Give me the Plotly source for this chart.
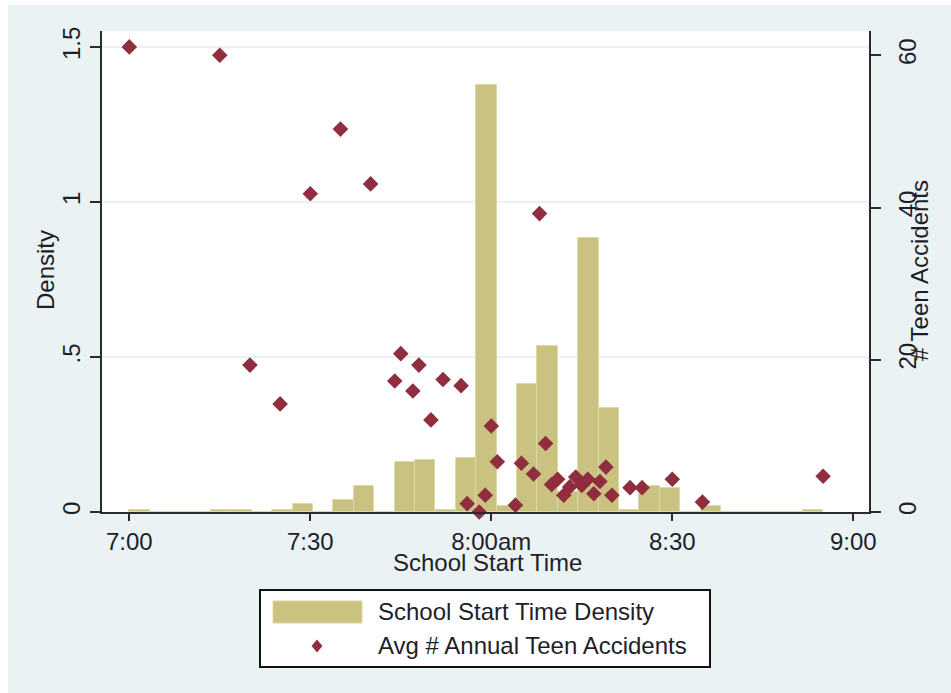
import plotly.graph_objects as go

# ---- data -------------------------------------------------------------
# Histogram of school start times: 34 equal bins from 7:00 to 8:55
bin_start = "7:00"
bin_end = "8:55"
density = [0.008, 0.0, 0.0, 0.0, 0.008, 0.008, 0.0, 0.008, 0.026, 0.0,
           0.040, 0.084, 0.0, 0.161, 0.169, 0.005, 0.175, 1.376, 0.019, 0.414,
           0.535, 0.065, 0.884, 0.335, 0.005, 0.084, 0.077, 0.0, 0.019, 0.0,
           0.0, 0.0, 0.0, 0.006]

# Average number of annual teen accidents by start time
accident_times = ["7:00", "7:15", "7:20", "7:25", "7:30", "7:35", "7:40", "7:44",
                  "7:45", "7:47", "7:48", "7:50", "7:52", "7:55", "7:56", "7:58",
                  "7:59", "8:00", "8:01", "8:04", "8:05", "8:07", "8:08", "8:09",
                  "8:10", "8:11", "8:12", "8:13", "8:14", "8:15", "8:16", "8:17",
                  "8:18", "8:19", "8:20", "8:23", "8:25", "8:30", "8:35", "8:55"]
accident_avg = [61.1, 60.0, 19.3, 14.2, 41.8, 50.3, 43.1, 17.2,
                20.8, 15.9, 19.3, 12.1, 17.4, 16.6, 1.1, 0.0,
                2.2, 11.3, 6.6, 0.9, 6.4, 5.0, 39.2, 9.0,
                3.6, 4.3, 2.2, 3.3, 4.6, 3.5, 4.3, 2.4,
                4.0, 5.9, 2.2, 3.2, 3.2, 4.3, 1.3, 4.7]

x_tick_times = ["7:00", "7:30", "8:00", "8:30", "9:00"]
x_tick_labels = ["7:00", "7:30", "8:00am", "8:30", "9:00"]
density_ticks = [0, 0.5, 1, 1.5]
density_tick_labels = ["0", ".5", "1", "1.5"]
accident_ticks = [0, 20, 40, 60]


def to_minutes(t):
    h, m = t.split(":")
    return int(h) * 60 + int(m)


# ---- geometry ---------------------------------------------------------
W, H = 951, 693
ML, MR, MT, MB = 102, 82, 31, 181
PW, PH = W - ML - MR, H - MT - MB


def px_x(px):
    return (px - ML) / PW


def px_y(py):
    return (H - MB - py) / PH


FONT = "Liberation Sans, Arial, sans-serif"
TXT = "#1e1e2a"
BG = "rgb(234,242,243)"
BAR = "rgb(201,194,128)"
BAR_EDGE = "rgb(222,217,168)"
MARK = "rgb(144,45,62)"
AXIS = "#2a2a2a"

start = to_minutes(bin_start)
n_bins = len(density)
bw = (to_minutes(bin_end) - start) / n_bins
bin_centers = [start + (k + 0.5) * bw for k in range(n_bins)]

fig = go.Figure()

fig.add_trace(go.Bar(
    x=bin_centers, y=density, width=bw,
    marker=dict(color=BAR, line=dict(color=BAR_EDGE, width=1)),
    name="School Start Time Density", showlegend=False,
))

fig.add_trace(go.Scatter(
    x=[to_minutes(t) for t in accident_times], y=accident_avg,
    mode="markers", yaxis="y2", cliponaxis=False,
    marker=dict(symbol="diamond", size=12, color=MARK),
    name="Avg # Annual Teen Accidents", showlegend=False,
))

x_lo = to_minutes("7:00") - 27.3 / 6.033
x_hi = x_lo + PW / 6.033

fig.update_layout(
    width=W, height=H,
    margin=dict(l=ML, r=MR, t=MT, b=MB),
    paper_bgcolor=BG, plot_bgcolor="white",
    font=dict(family=FONT, size=24, color=TXT),
    showlegend=False,
    bargap=0,
    xaxis=dict(
        range=[x_lo, x_hi],
        tickvals=[to_minutes(t) for t in x_tick_times],
        ticktext=x_tick_labels,
        ticks="outside", ticklen=7, tickwidth=2, tickcolor=AXIS,
        showline=True, linecolor=AXIS, linewidth=2,
        showgrid=False, zeroline=False,
        ticklabelstandoff=0,
    ),
    yaxis=dict(
        range=[0, PH / 310.0],
        tickvals=density_ticks, ticktext=density_tick_labels,
        tickangle=-90,
        ticks="outside", ticklen=10, tickwidth=2, tickcolor=AXIS,
        showline=True, linecolor=AXIS, linewidth=2,
        showgrid=True, gridcolor=BG, gridwidth=2,
        zeroline=False,
        ticklabelstandoff=0,
    ),
    yaxis2=dict(
        range=[0, PH / 7.612],
        overlaying="y", side="right",
        tickvals=accident_ticks,
        tickangle=-90,
        ticks="outside", ticklen=10, tickwidth=2, tickcolor=AXIS,
        showline=True, linecolor=AXIS, linewidth=2,
        showgrid=False, zeroline=False,
        ticklabelstandoff=6,
    ),
)

# white frame strips at the top and left edge of the graph region
fig.add_shape(type="rect", xref="paper", yref="paper",
              x0=px_x(0), x1=px_x(W), y0=px_y(5), y1=px_y(0),
              fillcolor="white", line=dict(width=0), layer="below")
fig.add_shape(type="rect", xref="paper", yref="paper",
              x0=px_x(0), x1=px_x(8), y0=px_y(H), y1=px_y(0),
              fillcolor="white", line=dict(width=0), layer="below")

# axis titles
fig.add_annotation(text="Density", xref="paper", yref="paper",
                   x=px_x(45), y=px_y(270), textangle=-90,
                   showarrow=False, xanchor="center", yanchor="middle")
fig.add_annotation(text="# Teen Accidents", xref="paper", yref="paper",
                   x=px_x(919), y=px_y(271), textangle=-90,
                   showarrow=False, xanchor="center", yanchor="middle")
fig.add_annotation(text="School Start Time", xref="paper", yref="paper",
                   x=px_x(487), y=px_y(562),
                   showarrow=False, xanchor="center", yanchor="middle")

# legend box
fig.add_shape(type="rect", xref="paper", yref="paper",
              x0=px_x(260), x1=px_x(710), y0=px_y(667), y1=px_y(590),
              fillcolor="white", line=dict(color="#111", width=2))
fig.add_shape(type="rect", xref="paper", yref="paper",
              x0=px_x(273), x1=px_x(362), y0=px_y(623), y1=px_y(601),
              fillcolor=BAR, line=dict(color=BAR_EDGE, width=1))
cx, cy, dx, dy = 317, 646, 5.5, 6.5
fig.add_shape(type="path", xref="paper", yref="paper",
              path=(f"M {px_x(cx)} {px_y(cy - dy)} L {px_x(cx + dx)} {px_y(cy)} "
                    f"L {px_x(cx)} {px_y(cy + dy)} L {px_x(cx - dx)} {px_y(cy)} Z"),
              fillcolor=MARK, line=dict(width=0))
fig.add_annotation(text="School Start Time Density", xref="paper", yref="paper",
                   x=px_x(376), y=px_y(611), showarrow=False,
                   xanchor="left", yanchor="middle")
fig.add_annotation(text="Avg # Annual Teen Accidents", xref="paper", yref="paper",
                   x=px_x(376), y=px_y(645), showarrow=False,
                   xanchor="left", yanchor="middle")

fig.write_html("out.html")
